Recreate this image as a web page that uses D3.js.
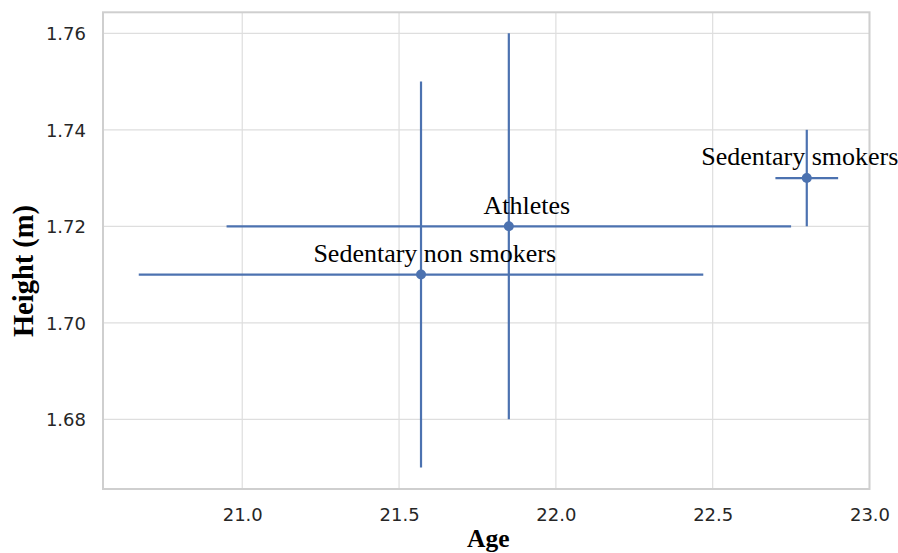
<!DOCTYPE html>
<html>
<head>
<meta charset="utf-8">
<script src="https://cdn.jsdelivr.net/npm/d3@7"></script>
<style>
  html, body { margin: 0; padding: 0; background: #ffffff; }
  svg { display: block; }
</style>
</head>
<body>
<svg id="chart" width="898" height="553"></svg>
<script>
// Group means with their spread in age and height
const groups  = ["Sedentary non smokers", "Athletes", "Sedentary smokers"];
const ages    = [21.57, 21.85, 22.8];
const ageErr  = [0.9, 0.9, 0.1];
const heights = [1.71, 1.72, 1.73];
const hgtErr  = [0.04, 0.04, 0.01];

const xTicks = [21.0, 21.5, 22.0, 22.5, 23.0];
const yTicks = [1.68, 1.70, 1.72, 1.74, 1.76];

// Label placement relative to each point (pixels)
const labelDx = [13.7, 18, -7];
const labelDy = [-12.5, -12.5, -13];

const W = 898, H = 553;
const margin = { left: 103, right: W - 869.5, top: 12.3, bottom: H - 489 };

const svg = d3.select("#chart");

const x = d3.scaleLinear().domain([20.556, 23.0]).range([margin.left, W - margin.right]);
const y = d3.scaleLinear().domain([1.66556, 1.76435]).range([H - margin.bottom, margin.top]);

const blue = "#4c72b0";
const tickColor = "#262626";
const serif = "'Times New Roman', 'Liberation Serif', serif";

// grid
const grid = svg.append("g");
grid.selectAll("line.gx").data(xTicks).join("line")
  .attr("x1", d => x(d)).attr("x2", d => x(d))
  .attr("y1", margin.top).attr("y2", H - margin.bottom)
  .attr("stroke", "#dedede").attr("stroke-width", 1.2);
grid.selectAll("line.gy").data(yTicks).join("line")
  .attr("y1", d => y(d)).attr("y2", d => y(d))
  .attr("x1", margin.left).attr("x2", W - margin.right)
  .attr("stroke", "#dedede").attr("stroke-width", 1.2);

// axes (labels only, seaborn whitegrid style has no tick marks)
const xAxis = d3.axisBottom(x).tickValues(xTicks).tickFormat(d3.format(".1f")).tickSize(0).tickPadding(0);
const yAxis = d3.axisLeft(y).tickValues(yTicks).tickFormat(d3.format(".2f")).tickSize(0).tickPadding(0);

const gx = svg.append("g").attr("transform", `translate(0,${H - margin.bottom})`).call(xAxis);
gx.select(".domain").remove();
gx.selectAll("text")
  .attr("dy", null).attr("y", 31.5)
  .attr("font-family", "DejaVu Sans, sans-serif").attr("font-size", 18)
  .attr("fill", tickColor);

const gy = svg.append("g").attr("transform", `translate(${margin.left},0)`).call(yAxis);
gy.select(".domain").remove();
gy.selectAll("text")
  .attr("x", -17).attr("dy", "0.35em")
  .attr("font-family", "DejaVu Sans, sans-serif").attr("font-size", 18)
  .attr("fill", tickColor);

// frame
svg.append("rect")
  .attr("x", margin.left).attr("y", margin.top)
  .attr("width", W - margin.left - margin.right)
  .attr("height", H - margin.top - margin.bottom)
  .attr("fill", "none").attr("stroke", "#cfcfcf").attr("stroke-width", 2);

// error bars and points
const rows = groups.map((g, i) => ({ g, i, x: ages[i], xe: ageErr[i], y: heights[i], ye: hgtErr[i] }));
const marks = svg.append("g");
marks.selectAll("line.h").data(rows).join("line")
  .attr("x1", d => x(d.x - d.xe)).attr("x2", d => x(d.x + d.xe))
  .attr("y1", d => y(d.y)).attr("y2", d => y(d.y))
  .attr("stroke", blue).attr("stroke-width", 2.2);
marks.selectAll("line.v").data(rows).join("line")
  .attr("x1", d => x(d.x)).attr("x2", d => x(d.x))
  .attr("y1", d => y(d.y - d.ye)).attr("y2", d => y(d.y + d.ye))
  .attr("stroke", blue).attr("stroke-width", 2.2);
marks.selectAll("circle").data(rows).join("circle")
  .attr("cx", d => x(d.x)).attr("cy", d => y(d.y)).attr("r", 5)
  .attr("fill", blue);

// group labels
svg.append("g").selectAll("text").data(rows).join("text")
  .attr("x", d => x(d.x) + labelDx[d.i])
  .attr("y", d => y(d.y) + labelDy[d.i])
  .attr("text-anchor", "middle")
  .attr("font-family", serif)
  .attr("font-size", 26)
  .attr("fill", "#000")
  .text(d => d.g);

// axis titles
svg.append("text")
  .attr("x", (margin.left + W - margin.right) / 2 + 2)
  .attr("y", 547)
  .attr("text-anchor", "middle")
  .attr("font-family", serif)
  .attr("font-weight", "bold").attr("font-size", 25.5)
  .text("Age");

svg.append("text")
  .attr("transform", "translate(33,271) rotate(-90)")
  .attr("text-anchor", "middle")
  .attr("font-family", serif)
  .attr("font-weight", "bold").attr("font-size", 28.5)
  .text("Height (m)");
</script>
</body>
</html>
